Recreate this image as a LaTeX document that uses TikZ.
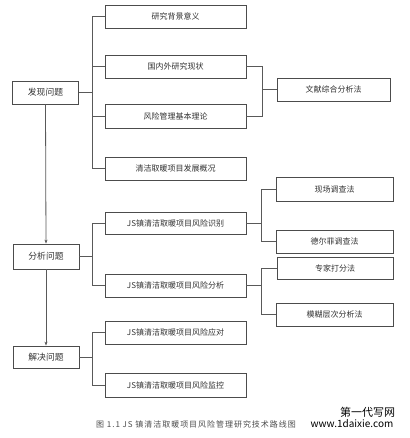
\documentclass[tikz,border=0pt]{standalone}
\usepackage{fontspec}
\setmainfont{Noto Sans CJK SC}
\newfontfamily\capfont[LetterSpace=12]{Noto Sans CJK SC}
\usetikzlibrary{arrows.meta}
\tikzset{
  box/.style={draw=black!70, line width=0.8pt, fill=white, inner sep=0pt, font=\fontsize{8}{9}\selectfont, text=black!80},
  lbox/.style={box, minimum width=66pt, minimum height=24pt, font=\fontsize{8.8}{10}\selectfont},
  mbox/.style={box, minimum width=141pt, minimum height=23pt},
  rbox/.style={box, minimum width=117pt, minimum height=23pt},
  conn/.style={draw=black!65, line width=0.8pt},
  arr/.style={conn, -{Stealth[length=4pt,width=3pt]}}
}
\begin{document}
\begin{tikzpicture}[x=1pt,y=-1pt]
\useasboundingbox (0,0) rectangle (409,438);
% left column
\node[lbox, minimum height=23pt] (fx) at (45.5,92.5) {发现问题};
\node[lbox, minimum height=25pt] (fx2) at (46,256.5) {分析问题};
\node[lbox, minimum height=22pt] (jj) at (46,357) {解决问题};
% middle column
\node[mbox] (m1) at (175.5,16.5) {研究背景意义};
\node[mbox] (m2) at (175.5,66.5) {国内外研究现状};
\node[mbox, minimum height=24pt] (m3) at (175.5,116) {风险管理基本理论};
\node[mbox] (m4) at (175.5,168.5) {清洁取暖项目发展概况};
\node[mbox, minimum height=22pt] (m5) at (175.5,223) {JS镇清洁取暖项目风险识别};
\node[mbox] (m6) at (175.5,285.5) {JS镇清洁取暖项目风险分析};
\node[mbox] (m7) at (175.5,332.5) {JS镇清洁取暖项目风险应对};
\node[mbox, minimum height=24pt] (m8) at (175.5,385) {JS镇清洁取暖项目风险监控};
% right column
\node[rbox, minimum width=113pt] (r1) at (333.5,89.5) {文献综合分析法};
\node[rbox, minimum height=24pt] (r2) at (334.5,189) {现场调查法};
\node[rbox] (r3) at (334.5,241.5) {德尔菲调查法};
\node[rbox, minimum width=116pt, minimum height=22pt] (r4) at (335,268) {专家打分法};
\node[rbox] (r5) at (334.5,314.5) {模糊层次分析法};
% bracket coordinates
\coordinate (bx) at (92,0);
\coordinate (rx) at (262,0);
\coordinate (sx) at (261,0);
% left arrows
\draw[arr] (fx.south) -- (fx2.north);
\draw[arr] (fx2.south) -- (jj.north);
% left-to-middle brackets
\draw[conn] (fx.east) -- (fx.east -| bx);
\draw[conn] (m1.west) -- (m1.west -| bx) -- (m4.west -| bx) -- (m4.west);
\draw[conn] (m2.west) -- (m2.west -| bx);
\draw[conn] (m3.west) -- (m3.west -| bx);
\draw[conn] (fx2.east) -- (fx2.east -| bx);
\draw[conn] (m5.west) -- (m5.west -| bx) -- (m6.west -| bx) -- (m6.west);
\draw[conn] (jj.east) -- (jj.east -| bx);
\draw[conn] (m7.west) -- (m7.west -| bx) -- (m8.west -| bx) -- (m8.west);
% middle-to-right brackets
\draw[conn] (m2.east) -- (m2.east -| rx) -- (m3.east -| rx) -- (m3.east);
\draw[conn] (r1.west) -- (r1.west -| rx);
\draw[conn] (r2.west) -- (r2.west -| sx) -- (r3.west -| sx) -- (r3.west);
\draw[conn] (m5.east) -- (m5.east -| sx);
\draw[conn] (r4.west) -- (r4.west -| sx) -- (r5.west -| sx) -- (r5.west);
\draw[conn] (m6.east) -- (m6.east -| sx);
% caption and watermark
\node[font=\capfont\fontsize{8}{9}\selectfont, text=black!70] (cap) at (196,424.5) {图 1.1 JS 镇清洁取暖项目风险管理研究技术路线图};
\node[font=\fontsize{11}{12}\selectfont] (wm1) at (367.5,412) {第一代写网};
\node[font=\fontsize{10}{11}\selectfont] (wm2) at (352,424) {www.1daixie.com};
\end{tikzpicture}
\end{document}
